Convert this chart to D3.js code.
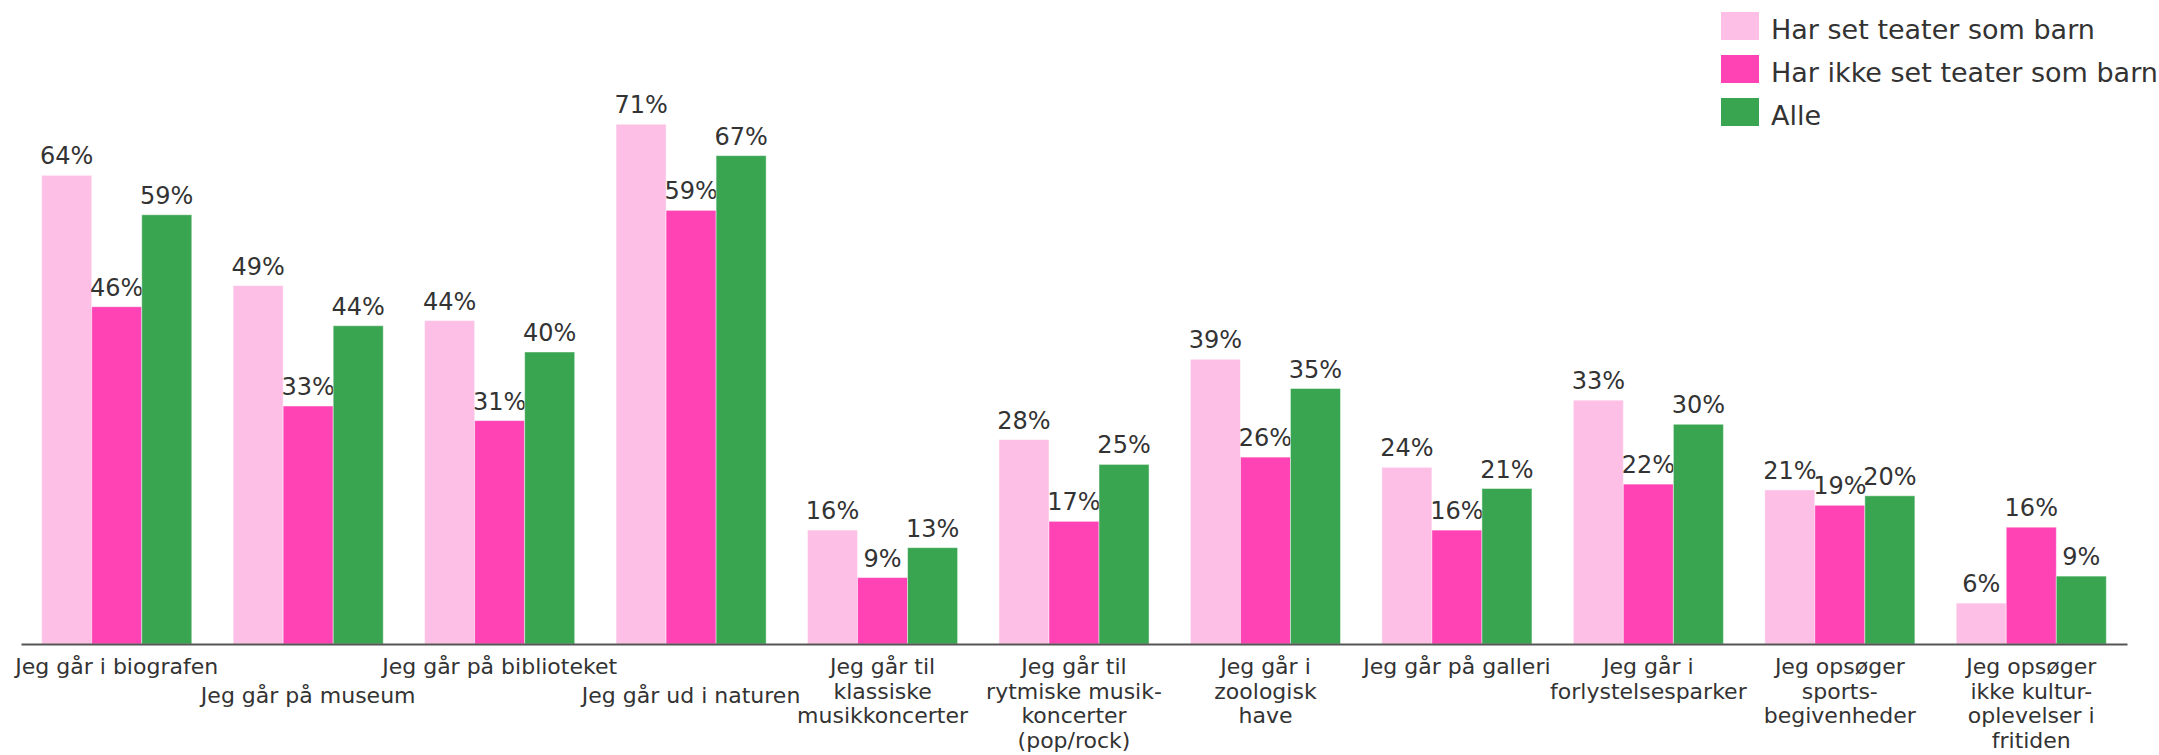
<!DOCTYPE html>
<html>
<head>
<meta charset="utf-8">
<script src="https://cdn.jsdelivr.net/npm/d3@7"></script>
<style>
  html, body { margin: 0; padding: 0; background: #fff; }
  svg text { font-family: 'DejaVu Sans', Verdana, sans-serif; fill: #333; }
</style>
</head>
<body>
<div id="chart"></div>
<script>
const categories = [
  'Jeg går i biografen',
  'Jeg går på museum',
  'Jeg går på biblioteket',
  'Jeg går ud i naturen',
  'Jeg går til klassiske musikkoncerter',
  'Jeg går til rytmiske musikkoncerter (pop/rock)',
  'Jeg går i zoologisk have',
  'Jeg går på galleri',
  'Jeg går i forlystelsesparker',
  'Jeg opsøger sportsbegivenheder',
  'Jeg opsøger ikke kulturoplevelser i fritiden',
];

// tick labels as they are broken in the picture
const tickLines = [
  ['Jeg går i biografen'],
  ['Jeg går på museum'],
  ['Jeg går på biblioteket'],
  ['Jeg går ud i naturen'],
  ['Jeg går til', 'klassiske', 'musikkoncerter'],
  ['Jeg går til', 'rytmiske musik-', 'koncerter', '(pop/rock)'],
  ['Jeg går i', 'zoologisk', 'have'],
  ['Jeg går på galleri'],
  ['Jeg går i', 'forlystelsesparker'],
  ['Jeg opsøger', 'sports-', 'begivenheder'],
  ['Jeg opsøger', 'ikke kultur-', 'oplevelser i', 'fritiden'],
];
// labels pushed down one row so they do not collide
const tickRow = [0, 1, 0, 1, 0, 0, 0, 0, 0, 0, 0];

const seriesNames = ['Har set teater som barn', 'Har ikke set teater som barn', 'Alle'];
const harSet = [64.2, 49.1, 44.3, 71.2, 15.6, 28.0, 39.0, 24.2, 33.4, 21.1, 5.6];
const harIkkeSet = [46.2, 32.6, 30.6, 59.4, 9.1, 16.8, 25.6, 15.6, 21.9, 19.0, 16.0];
const alle = [58.8, 43.6, 40.0, 66.9, 13.2, 24.6, 35.0, 21.3, 30.1, 20.3, 9.3];

class GroupedBarChart {
  constructor(element) {
    this.element = element;
    this.init();
  }

  init() {
    this.initSvg();
    this.setScales();
    this.drawBars();
    this.drawAxis();
    this.drawLegend();
  }

  getConstants() {
    const width = 2159;
    const height = 755;
    const baseline = 644;
    const colors = ['#fdbfe5', '#ff42b4', '#3aa551'];
    return {
      width, height, baseline, colors,
    };
  }

  initSvg() {
    const { width, height } = this.getConstants();
    this.svg = d3.select(this.element)
      .append('svg')
      .attr('width', width)
      .attr('height', height);
    this.data = categories.map((name, i) => ({
      name,
      values: [harSet[i], harIkkeSet[i], alle[i]],
    }));
  }

  setScales() {
    const { baseline, colors } = this.getConstants();
    this.x0 = d3.scaleBand()
      .domain(categories)
      .range([21, 2127])
      .paddingInner(0.216)
      .paddingOuter(0.108);
    this.x1 = d3.scaleBand()
      .domain(d3.range(seriesNames.length))
      .range([0, this.x0.bandwidth()]);
    this.y = d3.scaleLinear()
      .domain([0, 80])
      .range([baseline, baseline - 584]);
    this.color = d3.scaleOrdinal()
      .domain(d3.range(seriesNames.length))
      .range(colors);
  }

  drawBars() {
    const { baseline } = this.getConstants();
    const groups = this.svg.append('g')
      .selectAll('g')
      .data(this.data)
      .enter()
      .append('g')
      .attr('transform', (d) => `translate(${this.x0(d.name)},0)`);

    const cells = groups.selectAll('g')
      .data((d) => d.values.map((value, index) => ({ value, index })))
      .enter()
      .append('g');

    cells.append('rect')
      .attr('x', (d) => this.x1(d.index))
      .attr('y', (d) => this.y(d.value))
      .attr('width', this.x1.bandwidth())
      .attr('height', (d) => baseline - this.y(d.value))
      .attr('fill', (d) => this.color(d.index))
      .attr('stroke', 'rgba(255,255,255,0.45)')
      .attr('stroke-width', 1);

    cells.append('text')
      .attr('x', (d) => this.x1(d.index) + this.x1.bandwidth() / 2)
      .attr('y', (d) => this.y(d.value) - 11)
      .attr('text-anchor', 'middle')
      .style('font-size', '24px')
      .text((d) => `${Math.round(d.value)}%`);
  }

  drawAxis() {
    const { baseline } = this.getConstants();
    const axis = this.svg.append('g')
      .attr('transform', `translate(0,${baseline})`)
      .call(d3.axisBottom(this.x0).tickSize(0).tickSizeOuter(0));

    axis.select('.domain')
      .attr('stroke', '#555')
      .attr('stroke-width', 2);

    const lineHeight = 24.5;
    const rowShift = 29;
    axis.selectAll('.tick text')
      .each(function eachTick(d, i) {
        const label = d3.select(this)
          .attr('y', null)
          .attr('dy', null)
          .attr('fill', '#333')
          .style('font-size', '22px')
          .style('font-family', "'DejaVu Sans', Verdana, sans-serif")
          .text(null);
        tickLines[i].forEach((line, j) => {
          label.append('tspan')
            .attr('x', 0)
            .attr('y', 30 + tickRow[i] * rowShift + j * lineHeight)
            .text(line);
        });
      });
  }

  drawLegend() {
    const legend = this.svg.append('g')
      .attr('transform', 'translate(1721,12)');
    const items = legend.selectAll('g')
      .data(seriesNames)
      .enter()
      .append('g')
      .attr('transform', (d, i) => `translate(0,${i * 43})`);
    items.append('rect')
      .attr('width', 38)
      .attr('height', 28)
      .attr('fill', (d, i) => this.color(i));
    items.append('text')
      .attr('x', 50)
      .attr('y', 27)
      .style('font-size', '27px')
      .text((d) => d);
  }
}

new GroupedBarChart(document.getElementById('chart'));
</script>
</body>
</html>
